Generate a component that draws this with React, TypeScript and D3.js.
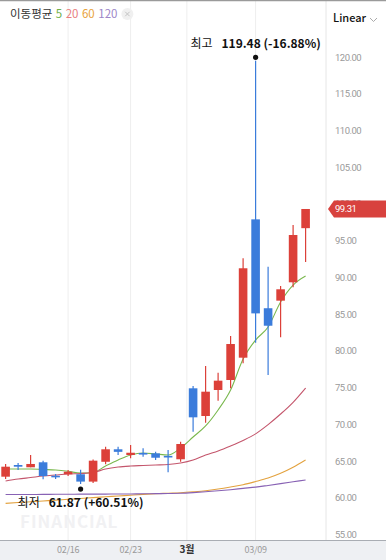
import { useEffect, useRef } from "react";
import * as d3 from "d3";

// daily candles, oldest first (index = trading day)
const opens = [62.87, 64.46, 64.15, 64.83, 63.0, 63.2, 63.2, 62.2, 64.9, 66.6, 65.82, 66.1, 66.05, 65.7, 65.24, 74.9, 71.13, 74.67, 76.03, 79.07, 97.9, 85.8, 86.83, 89.33, 96.7];
const highs = [64.6, 64.73, 65.82, 65.05, 63.23, 63.78, 63.8, 65.2, 66.95, 66.95, 67.18, 66.73, 66.27, 66.5, 67.63, 75.21, 77.94, 77.02, 82.02, 92.6, 119.48, 91.45, 88.83, 97.13, 99.31];
const lows = [62.55, 63.78, 64.15, 62.51, 62.55, 62.96, 61.87, 62.0, 64.56, 65.82, 65.37, 65.6, 65.14, 63.47, 64.91, 69.0, 70.22, 73.21, 74.9, 78.3, 81.1, 76.71, 81.84, 88.65, 92.09];
const closes = [64.23, 64.23, 64.6, 62.96, 62.9, 63.55, 62.2, 65.05, 66.6, 66.25, 66.13, 65.95, 65.45, 65.55, 67.32, 70.95, 74.44, 75.94, 80.93, 91.24, 85.1, 83.42, 88.38, 95.77, 99.31];

const ma5 = [63.92, 63.92, 63.92, 63.85, 63.78, 63.6, 63.35, 63.45, 64.32, 65.14, 65.82, 66.09, 65.96, 65.82, 66.77, 68.27, 69.77, 71.95, 74.67, 78.89, 81.47, 83.24, 86.65, 88.96, 90.19];
const ma20 = [62.28, 62.55, 62.75, 62.96, 63.1, 63.23, 63.3, 63.44, 63.92, 64.19, 64.32, 64.39, 64.46, 64.53, 64.73, 65.14, 65.82, 66.37, 67.05, 67.8, 68.7, 69.95, 71.4, 73.0, 74.94];
const ma60 = [59.24, 59.35, 59.45, 59.56, 59.67, 59.79, 59.9, 60.02, 60.13, 60.24, 60.35, 60.46, 60.55, 60.62, 60.69, 60.81, 60.96, 61.19, 61.47, 61.78, 62.21, 62.69, 63.33, 64.15, 65.14];
const ma120 = [60.44, 60.45, 60.45, 60.46, 60.47, 60.48, 60.49, 60.5, 60.5, 60.51, 60.52, 60.54, 60.56, 60.58, 60.61, 60.7, 60.82, 60.95, 61.1, 61.28, 61.45, 61.68, 61.92, 62.17, 62.42];

const yTicks = [55, 60, 65, 70, 75, 80, 85, 90, 95, 100, 105, 110, 115, 120];
const xTickIdx = [5, 10, 14.5, 20];
const xTickLabels = ["02/16", "02/23", "3월", "03/09"];
const xTickBold = [false, false, true, false];

const maNames = ["5", "20", "60", "120"];
const maLegendColors = ["#6fb04a", "#e87e80", "#e8a33c", "#9d86c8"];
const maLineColors = ["#7ab84e", "#c4566c", "#e3a23f", "#8862b4"];

const lastPrice = 99.31;
const hiText = "119.48 (-16.88%)";
const loText = "61.87 (+60.51%)";

const UP = "#dc4039";
const DOWN = "#3b7cdb";
const FONT = "'Noto Sans CJK KR', Roboto, sans-serif";

export default function App() {
  const ref = useRef<SVGSVGElement | null>(null);

  useEffect(() => {
    if (!ref.current) return;
    const width = 386;
    const height = 560;
    const plotRight = 326;
    const plotBottom = 540;
    const svg = d3.select(ref.current);
    svg.selectAll("*").remove();
    svg.attr("viewBox", `0 0 ${width} ${height}`);

    const x = d3.scaleLinear().domain([0, 24]).range([5.6, 305.6]);
    const y = d3.scaleLinear().domain([55, 120]).range([534.5, 57]);

    svg.append("rect").attr("width", width).attr("height", height).attr("fill", "#fff");

    // vertical grid
    svg.append("g")
      .selectAll("line")
      .data(xTickIdx)
      .join("line")
      .attr("x1", (d) => x(d)).attr("x2", (d) => x(d))
      .attr("y1", 0).attr("y2", plotBottom)
      .attr("stroke", "#eeeeee");

    svg.append("line")
      .attr("x1", plotRight).attr("x2", plotRight)
      .attr("y1", 0).attr("y2", plotBottom)
      .attr("stroke", "#e6e6e6");

    // watermark
    svg.append("text")
      .attr("x", 20).attr("y", 528)
      .attr("font-family", FONT).attr("font-weight", 700).attr("font-size", 17)
      .attr("letter-spacing", 1)
      .attr("fill", "#f1f1f3")
      .text("FINANCIAL");

    const plot = svg.append("g");

    // moving averages
    const series = [ma5, ma20, ma60, ma120];
    const line = d3.line<number>()
      .x((_, i) => x(i))
      .y((d) => y(d))
      .curve(d3.curveMonotoneX);
    series.forEach((s, k) => {
      plot.append("path").datum(s).attr("d", line).attr("fill", "none")
        .attr("stroke", maLineColors[k]).attr("stroke-width", 1.1);
    });

    // candles
    const idx = d3.range(opens.length);
    const bw = 8.6;
    const cg = plot.append("g");
    idx.forEach((i) => {
      const up = closes[i] >= opens[i];
      const col = up ? UP : DOWN;
      cg.append("line")
        .attr("x1", x(i)).attr("x2", x(i))
        .attr("y1", y(highs[i])).attr("y2", y(lows[i]))
        .attr("stroke", col).attr("stroke-width", 1.2);
      const top = y(Math.max(opens[i], closes[i]));
      const bot = y(Math.min(opens[i], closes[i]));
      cg.append("rect")
        .attr("x", x(i) - bw / 2).attr("y", top)
        .attr("width", bw).attr("height", Math.max(bot - top, 1.6))
        .attr("fill", col);
    });

    // high / low markers
    const hiIdx = d3.maxIndex(highs);
    const loIdx = d3.minIndex(lows);
    const hiY = y(highs[hiIdx]) - 3.5;
    const loY = y(lows[loIdx]) + 5;
    svg.append("circle").attr("cx", x(hiIdx)).attr("cy", hiY).attr("r", 2.6).attr("fill", "#111");
    svg.append("circle").attr("cx", x(loIdx)).attr("cy", loY).attr("r", 2.6).attr("fill", "#111");

    const hiT = svg.append("text")
      .attr("x", x(hiIdx)).attr("y", hiY - 9.5)
      .attr("text-anchor", "middle")
      .attr("font-family", FONT).attr("font-size", 12).attr("fill", "#111");
    hiT.append("tspan").text("최고");
    hiT.append("tspan").attr("dx", 9).attr("font-weight", 700).text(hiText);

    const loT = svg.append("text")
      .attr("x", x(loIdx)).attr("y", loY + 18)
      .attr("text-anchor", "middle")
      .attr("font-family", FONT).attr("font-size", 12).attr("fill", "#111");
    loT.append("tspan").text("최저");
    loT.append("tspan").attr("dx", 9).attr("font-weight", 700).text(loText);

    // right axis
    svg.append("g")
      .selectAll("text")
      .data(yTicks)
      .join("text")
      .attr("x", 335).attr("y", (d) => y(d) + 3.5)
      .attr("font-family", "Roboto, sans-serif").attr("font-size", 9.5)
      .attr("letter-spacing", -0.5)
      .attr("fill", "#9a9a9a")
      .text((d) => d.toFixed(2));

    // last price tag
    const ly = y(lastPrice);
    svg.append("path")
      .attr("d", `M${plotRight + 2},${ly} L${plotRight + 8},${ly - 8.5} L${width},${ly - 8.5} L${width},${ly + 8.5} L${plotRight + 8},${ly + 8.5} Z`)
      .attr("fill", "#d8423e");
    svg.append("text")
      .attr("x", 335).attr("y", ly + 3.5)
      .attr("font-family", "Roboto, sans-serif").attr("font-size", 9.5)
      .attr("letter-spacing", -0.5)
      .attr("fill", "#fff")
      .text(lastPrice.toFixed(2));

    // bottom axis band
    svg.append("rect").attr("x", 0).attr("y", plotBottom).attr("width", width).attr("height", height - plotBottom)
      .attr("fill", "#eef0f3");
    svg.append("line").attr("x1", 0).attr("x2", width).attr("y1", plotBottom + 0.5).attr("y2", plotBottom + 0.5)
      .attr("stroke", "#a9adb3");
    svg.append("g")
      .selectAll("text")
      .data(xTickIdx)
      .join("text")
      .attr("x", (d) => x(d)).attr("y", 553)
      .attr("text-anchor", "middle")
      .attr("font-family", FONT)
      .attr("font-size", (_, i) => (xTickBold[i] ? 10 : 9))
      .attr("font-weight", (_, i) => (xTickBold[i] ? 700 : 400))
      .attr("letter-spacing", -0.3)
      .attr("fill", (_, i) => (xTickBold[i] ? "#333" : "#9a9a9a"))
      .text((_, i) => xTickLabels[i]);

    // header
    svg.append("line").attr("x1", 0).attr("x2", width).attr("y1", 0.5).attr("y2", 0.5)
      .attr("stroke", "#9a9a9a").attr("stroke-width", 1.5);
    const hd = svg.append("text")
      .attr("x", 10).attr("y", 18)
      .attr("font-family", FONT).attr("font-size", 11.5).attr("fill", "#333");
    hd.append("tspan").text("이동평균");
    maNames.forEach((n, k) => {
      hd.append("tspan").attr("dx", 3.5).attr("fill", maLegendColors[k]).text(n);
    });
    const bb = (hd.node() as SVGTextElement).getBBox();
    const cx = bb.x + bb.width + 10;
    svg.append("circle").attr("cx", cx).attr("cy", 14).attr("r", 6).attr("fill", "#f0f0f0");
    svg.append("path")
      .attr("d", `M${cx - 2.2},${11.8} L${cx + 2.2},${16.2} M${cx + 2.2},${11.8} L${cx - 2.2},${16.2}`)
      .attr("stroke", "#c4c4c4").attr("stroke-width", 1);

    svg.append("text")
      .attr("x", 333).attr("y", 22)
      .attr("font-family", FONT).attr("font-size", 11).attr("font-weight", 500).attr("fill", "#111")
      .text("Linear");
    svg.append("path")
      .attr("d", "M370,18 L373.5,21.5 L377,18")
      .attr("fill", "none").attr("stroke", "#aaa").attr("stroke-width", 1);
  }, []);

  return (
    <div style={{ position: "fixed", left: 0, top: 0, width: 386, height: 560 }}>
      <svg ref={ref} width={386} height={560} style={{ display: "block" }} />
    </div>
  );
}
